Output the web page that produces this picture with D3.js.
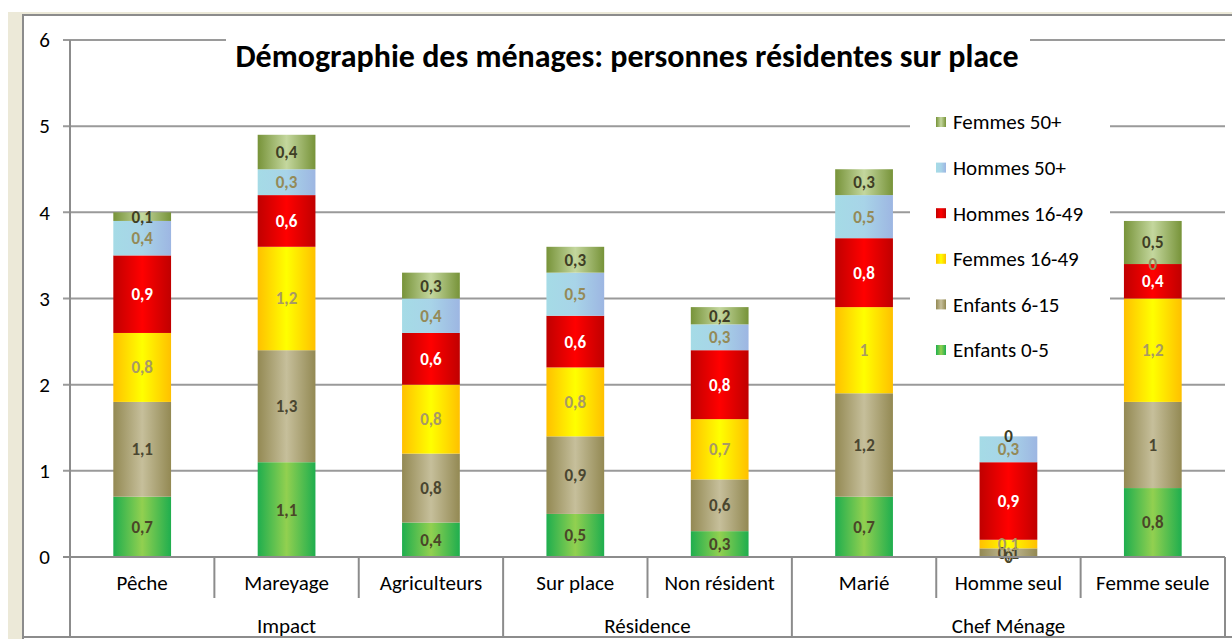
<!DOCTYPE html>
<html><head><meta charset="utf-8">
<script src="https://cdn.jsdelivr.net/npm/d3@7/dist/d3.min.js"></script>
<style>
html,body{margin:0;padding:0;background:#fff;}
svg{display:block;font-family:Carlito,Lato,"Open Sans",sans-serif;}
</style></head><body>
<svg id="c" width="1232" height="639"></svg>
<script>
const categories = ["Pêche","Mareyage","Agriculteurs","Sur place","Non résident","Marié","Homme seul","Femme seule"];
const groups = [{name:"Impact", n:3},{name:"Résidence", n:2},{name:"Chef Ménage", n:3}];
const seriesNames = ["Enfants 0-5","Enfants 6-15","Femmes 16-49","Hommes 16-49","Hommes 50+","Femmes 50+"];
const enfants05   = [0.7,1.1,0.4,0.5,0.3,0.7,0,0.8];
const enfants615  = [1.1,1.3,0.8,0.9,0.6,1.2,0.1,1];
const femmes1649  = [0.8,1.2,0.8,0.8,0.7,1,0.1,1.2];
const hommes1649  = [0.9,0.6,0.6,0.6,0.8,0.8,0.9,0.4];
const hommes50    = [0.4,0.3,0.4,0.5,0.3,0.5,0.3,0];
const femmes50    = [0.1,0.4,0.3,0.3,0.2,0.3,0,0.5];
const yTicks = [0,1,2,3,4,5,6];
const title = "Démographie des ménages: personnes résidentes sur place";

const seriesValues = [enfants05,enfants615,femmes1649,hommes1649,hommes50,femmes50];
const styles = [
  {edge:"#1fae4e", mid:"#92d050", label:"#4a4628"},
  {edge:"#938953", mid:"#c6bf9b", label:"#4a4630"},
  {edge:"#ffc000", mid:"#ffff00", label:"#a89a64"},
  {edge:"#c00000", mid:"#ff0000", label:"#ffffff"},
  {edge:"#a5dbe6", mid:"#a8d4e8", right:"#9db6e2", label:"#948a58"},
  {edge:"#779339", mid:"#c4d79e", label:"#3f3e25"}
];

const table = categories.map((c,i)=>{
  const o={cat:c};
  seriesNames.forEach((s,j)=>o[s]=seriesValues[j][i]);
  return o;
});

const svg = d3.select("#c");
const W=1232,H=639;
const pLeft=70,pRight=1225,pTop=40,pBottom=557;

// frame
svg.append("rect").attr("x",8).attr("y",12).attr("width",W-8).attr("height",H-12).attr("fill","#ece9d8");
svg.append("rect").attr("x",22).attr("y",14).attr("width",W-22).attr("height",H-14).attr("fill","#8c8c8c");
svg.append("rect").attr("x",24).attr("y",16).attr("width",W-24).attr("height",H-16).attr("fill","#ffffff");

const defs = svg.append("defs");
styles.forEach((s,i)=>{
  const g = defs.append("linearGradient").attr("id","g"+i).attr("x1","0").attr("x2","1").attr("y1","0").attr("y2","0");
  g.append("stop").attr("offset","0").attr("stop-color",s.edge);
  g.append("stop").attr("offset","0.5").attr("stop-color",s.mid);
  g.append("stop").attr("offset","1").attr("stop-color",s.right||s.edge);
});

const x = d3.scaleBand().domain(categories).range([pLeft,pRight]).paddingInner(0.6).paddingOuter(0.3);
const y = d3.scaleLinear().domain([0,6]).range([pBottom,pTop]);
const bandLeft = i => pLeft + i*(pRight-pLeft)/categories.length;

// gridlines
const grid = svg.append("g");
yTicks.forEach(t=>{
  grid.append("line").attr("x1",pLeft-7).attr("x2",pRight).attr("y1",y(t)).attr("y2",y(t))
    .attr("stroke","#9a9a9a").attr("stroke-width",2);
});

// y axis
const yAxis = d3.axisLeft(y).tickValues(yTicks).tickSize(0).tickPadding(20).tickFormat(d3.format("d"));
const ya = svg.append("g").attr("transform",`translate(${pLeft},0)`).call(yAxis);
ya.select(".domain").remove();
ya.attr("font-family",null).attr("font-size",null);
ya.selectAll("text").attr("font-size",21).attr("fill","#000");
svg.append("line").attr("x1",pLeft).attr("x2",pLeft).attr("y1",pTop).attr("y2",637).attr("stroke","#8c8c8c").attr("stroke-width",2);

// title background & title
svg.append("rect").attr("x",226).attr("y",30).attr("width",804).attr("height",50).attr("fill","#fff");
svg.append("text").attr("x",627).attr("y",67).attr("text-anchor","middle").attr("font-size",32).attr("font-weight","bold").attr("fill","#000").text(title);

// legend background
svg.append("rect").attr("x",910).attr("y",100).attr("width",200).attr("height",268).attr("fill","#fff");

// bars
const stack = d3.stack().keys(seriesNames);
const stacked = stack(table);
const bars = svg.append("g");
stacked.forEach((layer,i)=>{
  bars.selectAll(null).data(layer).enter().append("rect")
    .attr("x",d=>x(d.data.cat)).attr("width",x.bandwidth())
    .attr("y",d=>y(d[1])).attr("height",d=>y(d[0])-y(d[1]))
    .attr("fill",`url(#g${i})`);
});
// labels
stacked.forEach((layer,i)=>{
  bars.selectAll(null).data(layer).enter().append("text")
    .attr("x",d=>x(d.data.cat)+x.bandwidth()/2)
    .attr("y",d=>y((d[0]+d[1])/2)).attr("dy","0.35em")
    .attr("text-anchor","middle").attr("font-size",17).attr("font-weight","bold")
    .attr("fill",styles[i].label)
    .text(d=>d3.format(".1~f")(d.data[layer.key]).replace(".",","));
});

// x axis line
svg.append("line").attr("x1",pLeft-7).attr("x2",pRight).attr("y1",pBottom).attr("y2",pBottom).attr("stroke","#8c8c8c").attr("stroke-width",2);
svg.append("line").attr("x1",22).attr("x2",W).attr("y1",637).attr("y2",637).attr("stroke","#8c8c8c").attr("stroke-width",2);

// category labels and dividers
const groupStarts = [];
let acc=0; groups.forEach(g=>{groupStarts.push(acc); acc+=g.n;}); groupStarts.push(acc);
categories.forEach((c,i)=>{
  svg.append("text").attr("x",x(c)+x.bandwidth()/2).attr("y",583).attr("dy","0.35em")
    .attr("text-anchor","middle").attr("font-size",21).attr("fill","#000").text(c);
});
for(let i=1;i<=categories.length;i++){
  const bx = bandLeft(i);
  const isGroup = groupStarts.includes(i);
  svg.append("line").attr("x1",bx).attr("x2",bx).attr("y1",pBottom).attr("y2",isGroup?637:598)
    .attr("stroke","#8c8c8c").attr("stroke-width",2);
}
groups.forEach((g,k)=>{
  const x0=bandLeft(groupStarts[k]), x1=bandLeft(groupStarts[k+1]);
  svg.append("text").attr("x",(x0+x1)/2).attr("y",626).attr("dy","0.35em")
    .attr("text-anchor","middle").attr("font-size",21).attr("fill","#000").text(g.name);
});

// legend
const leg = svg.append("g");
const legOrder = seriesNames.map((s,i)=>i).reverse();
legOrder.forEach((si,r)=>{
  const yy = 122 + r*45.6;
  leg.append("rect").attr("x",936).attr("y",yy-5).attr("width",10).attr("height",10).attr("fill",`url(#g${si})`);
  leg.append("text").attr("x",953).attr("y",yy).attr("dy","0.35em").attr("font-size",21).attr("fill","#000").text(seriesNames[si]);
});
</script>
</body></html>
